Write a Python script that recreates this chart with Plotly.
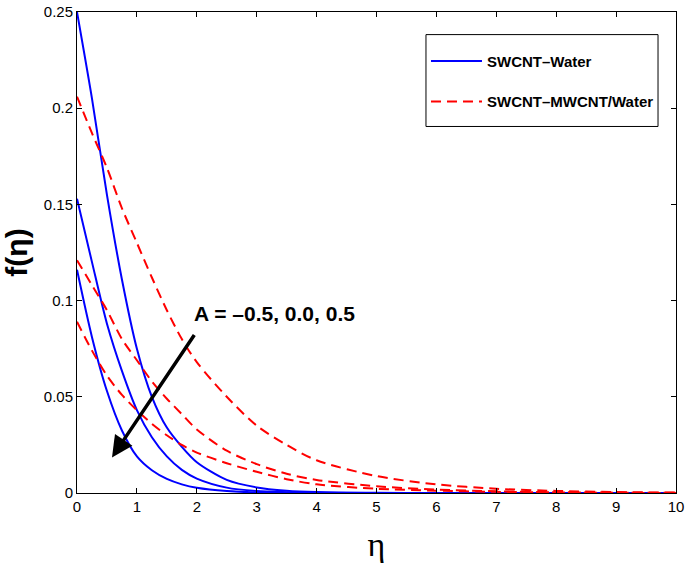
import plotly.graph_objects as go

# eta grid
eta = [0, 0.25, 0.5, 0.75, 1.0, 1.25, 1.5, 1.75, 2.0, 2.5, 3.0, 3.5, 4.0, 5.0, 6.0, 7.0, 8.0, 9.0, 10.0]

# SWCNT-Water (solid blue), A = -0.5, 0.0, 0.5
swcnt_a1 = [0.250, 0.205, 0.155, 0.111, 0.075, 0.050, 0.034, 0.024, 0.016, 0.0068, 0.0029, 0.0012, 0.0005, 0.0001, 0, 0, 0, 0, 0]
swcnt_a2 = [0.153, 0.120, 0.088, 0.0635, 0.0431, 0.029, 0.019, 0.012, 0.0075, 0.0028, 0.0010, 0.0004, 0.0001, 0, 0, 0, 0, 0, 0]
swcnt_a3 = [0.116, 0.081, 0.053, 0.0325, 0.019, 0.0118, 0.0073, 0.0045, 0.0027, 0.0010, 0.0003, 0.0001, 0, 0, 0, 0, 0, 0, 0]

# SWCNT-MWCNT/Water (dashed red)
hyb_a1 = [0.206, 0.187, 0.169, 0.148, 0.130, 0.112, 0.095, 0.080, 0.068, 0.050, 0.035, 0.025, 0.017, 0.0088, 0.0045, 0.0022, 0.0011, 0.0005, 0.0002]
hyb_a2 = [0.121, 0.108, 0.095, 0.080, 0.069, 0.058, 0.049, 0.041, 0.033, 0.022, 0.015, 0.010, 0.0068, 0.0035, 0.0018, 0.0009, 0.0004, 0.0002, 0.0001]
hyb_a3 = [0.089, 0.074, 0.061, 0.051, 0.043, 0.036, 0.030, 0.025, 0.021, 0.0155, 0.011, 0.0072, 0.0045, 0.0022, 0.0012, 0.0006, 0.0003, 0.0001, 0]

x_ticks = [0, 1, 2, 3, 4, 5, 6, 7, 8, 9, 10]
y_ticks = [0, 0.05, 0.1, 0.15, 0.2, 0.25]
y_ticktext = ["0", "0.05", "0.1", "0.15", "0.2", "0.25"]

FONT = "Liberation Sans, Arial, sans-serif"

fig = go.Figure()
for i, ys in enumerate([swcnt_a1, swcnt_a2, swcnt_a3]):
    fig.add_trace(go.Scatter(
        x=eta, y=ys, mode="lines", name="<b>SWCNT\u2013Water</b>",
        legendgroup="sw", showlegend=(i == 0),
        line=dict(color="#0000ff", width=2, shape="spline", smoothing=0.8)))
for i, ys in enumerate([hyb_a1, hyb_a2, hyb_a3]):
    fig.add_trace(go.Scatter(
        x=eta, y=ys, mode="lines", name="<b>SWCNT\u2013MWCNT/Water</b>",
        legendgroup="hy", showlegend=(i == 0),
        line=dict(color="#ff0000", width=2, dash="10px,6px", shape="spline", smoothing=0.8)))

axis_common = dict(
    showline=True, linecolor="black", linewidth=1, mirror="ticks",
    ticks="inside", ticklen=5, tickcolor="black", tickwidth=1,
    showgrid=False, zeroline=False, automargin=False,
    tickfont=dict(family=FONT, size=15, color="black"),
)

fig.update_xaxes(range=[0, 10], tickvals=x_ticks,
                 title=dict(text="\u03b7", font=dict(family="Liberation Serif, DejaVu Serif, serif", size=34, color="black"), standoff=18),
                 **axis_common)
fig.update_yaxes(range=[0, 0.25], tickvals=y_ticks, ticktext=y_ticktext,
                 title=dict(text="<b>f(\u03b7)</b>", font=dict(family=FONT, size=30, color="black"), standoff=8),
                 **axis_common)

# legend frame
fig.add_shape(type="rect", xref="paper", yref="paper",
              x0=0.5826, x1=0.970, y0=0.762, y1=0.953,
              line=dict(color="black", width=1), fillcolor="white", layer="above")

fig.add_annotation(x=0.584, y=0.0185, ax=1.975, ay=0.0829, xref="x", yref="y", axref="x", ayref="y",
                   showarrow=True, arrowhead=2, arrowsize=1.2, arrowwidth=3.5, arrowcolor="black", text="")
fig.add_annotation(x=3.30, y=0.0935, xref="x", yref="y", showarrow=False,
                   text="<b>A = \u20130.5, 0.0, 0.5</b>",
                   font=dict(family=FONT, size=21, color="black"),
                   xanchor="center", yanchor="middle")

fig.update_layout(
    width=685, height=567,
    margin=dict(l=77, r=9, t=11.5, b=74),
    plot_bgcolor="white", paper_bgcolor="white",
    legend=dict(x=0.5826, y=0.932, xanchor="left", yanchor="top",
                borderwidth=0, bgcolor="rgba(0,0,0,0)",
                tracegroupgap=18, itemwidth=51,
                font=dict(family=FONT, size=15, color="black")),
)

fig.write_html("out.html", config={"displayModeBar": False},
               post_script="document.body.style.margin='0';")
